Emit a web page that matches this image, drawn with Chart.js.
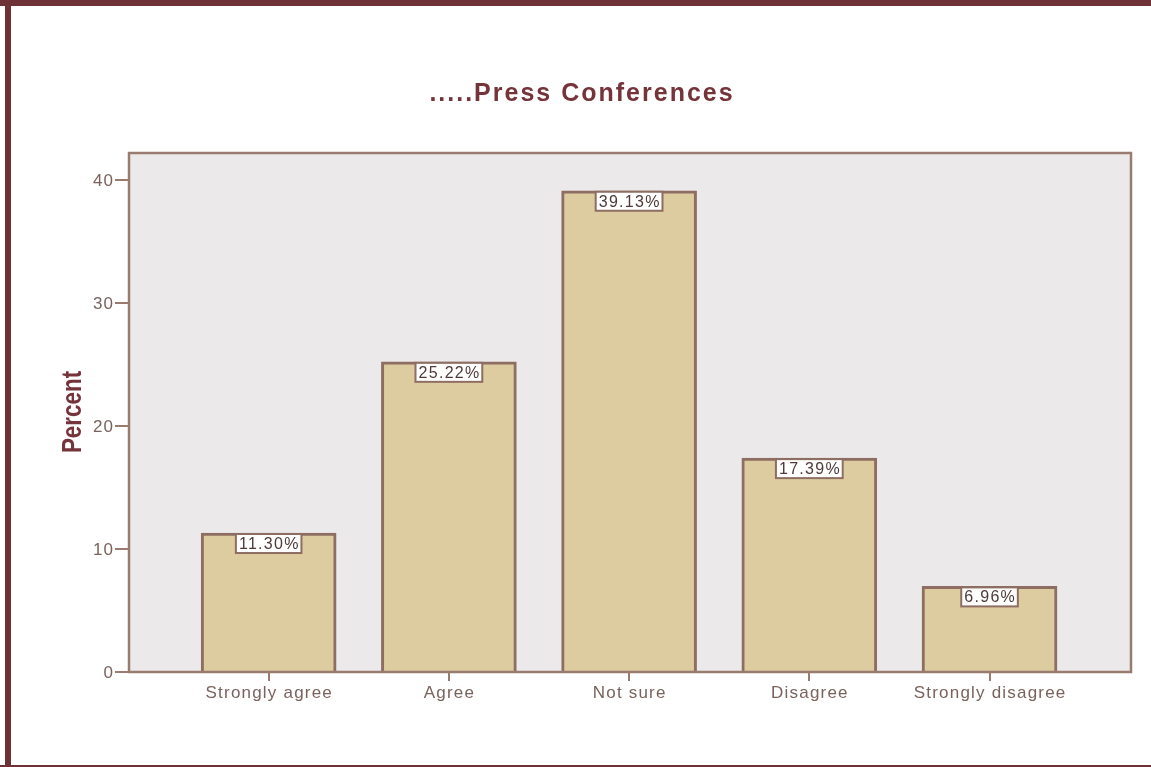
<!DOCTYPE html>
<html>
<head>
<meta charset="utf-8">
<title>Press Conferences</title>
<script src="https://cdn.jsdelivr.net/npm/chart.js@4/dist/chart.umd.min.js"></script>
<style>
  html, body { margin: 0; padding: 0; background: #ffffff; }
  canvas { display: block; }
</style>
</head>
<body>
<canvas id="chart" width="1151" height="767"></canvas>
<script>
// Survey responses, percent of respondents
const categories = ['Strongly agree', 'Agree', 'Not sure', 'Disagree', 'Strongly disagree'];
const percents = [11.30, 25.22, 39.13, 17.39, 6.96];
const yTicks = [0, 10, 20, 30, 40];
const chartTitle = '.....Press Conferences';
const yTitle = 'Percent';

const MAROON = '#75333a';
const AXIS = '#9a7b70';
const TEXT = '#7a625c';
const FONT = '"Liberation Sans", Arial, sans-serif';

// Draws text with extra spacing between glyphs
function spacedText(ctx, txt, x, y, spacing) {
  ctx.letterSpacing = spacing + 'px';
  const w = ctx.measureText(txt).width - spacing;
  const align = ctx.textAlign;
  ctx.textAlign = 'left';
  let sx = x;
  if (align === 'center') sx = x - w / 2;
  else if (align === 'right') sx = x - w;
  ctx.fillText(txt, sx, y);
  ctx.textAlign = align;
  ctx.letterSpacing = '0px';
  return w;
}

// Outer frame, plot background, plot border, titles, axis labels and value boxes
const decorations = {
  id: 'decorations',
  beforeDatasetsDraw(chart) {
    const { ctx, chartArea: a } = chart;
    ctx.save();
    ctx.fillStyle = '#ebe9ea';
    ctx.fillRect(a.left, a.top, a.right - a.left, a.bottom - a.top);
    ctx.restore();
  },
  afterDatasetsDraw(chart) {
    const { ctx, chartArea: a, scales } = chart;
    ctx.save();
    // plot border
    ctx.strokeStyle = AXIS;
    ctx.lineWidth = 2.5;
    ctx.strokeRect(a.left, a.top, a.right - a.left, a.bottom - a.top);

    // value boxes at top of each bar
    const meta = chart.getDatasetMeta(0);
    ctx.font = '16px ' + FONT;
    ctx.textBaseline = 'middle';
    meta.data.forEach((bar, i) => {
      const txt = percents[i].toFixed(2) + '%';
      ctx.letterSpacing = '1.3px';
      const tw = ctx.measureText(txt).width - 1.3;
      ctx.letterSpacing = '0px';
      const w = tw + 6;
      const h = 19;
      const x = bar.x - w / 2;
      const y = bar.y + 1;
      ctx.fillStyle = '#ffffff';
      ctx.fillRect(x, y, w, h);
      ctx.strokeStyle = '#8e6d62';
      ctx.lineWidth = 2;
      ctx.strokeRect(x, y, w, h);
      ctx.fillStyle = '#4e3a38';
      ctx.textAlign = 'center';
      spacedText(ctx, txt, bar.x, y + h / 2 + 1, 1.3);
    });

    // x category labels
    ctx.fillStyle = TEXT;
    ctx.font = '17px ' + FONT;
    ctx.textAlign = 'center';
    ctx.textBaseline = 'middle';
    categories.forEach((c, i) => {
      spacedText(ctx, c, scales.x.getPixelForValue(i), 693, 1.2);
    });

    // y tick labels
    ctx.textAlign = 'right';
    yTicks.forEach(v => {
      spacedText(ctx, String(v), 113, scales.y.getPixelForValue(v) + 1, 1);
    });

    // chart title
    ctx.fillStyle = MAROON;
    ctx.font = 'bold 25px ' + FONT;
    ctx.textAlign = 'center';
    ctx.textBaseline = 'middle';
    spacedText(ctx, chartTitle, 581, 94, 2);

    // y axis title (tall, narrow lettering)
    ctx.save();
    ctx.translate(72, 412);
    ctx.rotate(-Math.PI / 2);
    ctx.scale(0.8, 1);
    ctx.font = 'bold 28px ' + FONT;
    ctx.textAlign = 'center';
    ctx.fillText(yTitle, 0, 1);
    ctx.restore();

    // page frame
    ctx.fillStyle = '#6e3236';
    ctx.fillRect(0, 0, chart.width, 6);
    ctx.fillRect(5, 0, 6, chart.height);
    ctx.fillRect(0, 765, chart.width, 2);
    ctx.restore();
  }
};

new Chart(document.getElementById('chart'), {
  type: 'bar',
  data: {
    datasets: [{
      data: percents.map((v, i) => ({ x: i, y: v })),
      backgroundColor: '#dccc9f',
      borderColor: '#8e6d62',
      borderWidth: 3,
      barThickness: 135
    }]
  },
  options: {
    responsive: false,
    animation: false,
    devicePixelRatio: 1,
    layout: { padding: { top: 153, right: 20, left: 0, bottom: 0 } },
    plugins: {
      legend: { display: false },
      tooltip: { enabled: false }
    },
    scales: {
      x: {
        type: 'linear',
        offset: false,
        min: -0.775,
        max: 4.785,
        afterBuildTicks(scale) {
          scale.ticks = categories.map((_, i) => ({ value: i }));
        },
        afterFit(scale) { scale.height = 95; },
        ticks: { display: false },
        grid: {
          offset: false,
          drawOnChartArea: false,
          color: AXIS,
          lineWidth: 2,
          tickLength: 9
        },
        border: { display: false }
      },
      y: {
        min: 0,
        max: 42.2,
        afterBuildTicks(scale) {
          scale.ticks = yTicks.map(v => ({ value: v }));
        },
        afterFit(scale) { scale.width = 129; },
        ticks: { display: false },
        grid: {
          drawOnChartArea: false,
          color: AXIS,
          lineWidth: 2,
          tickLength: 14
        },
        border: { display: false }
      }
    }
  },
  plugins: [decorations]
});
</script>
</body>
</html>
